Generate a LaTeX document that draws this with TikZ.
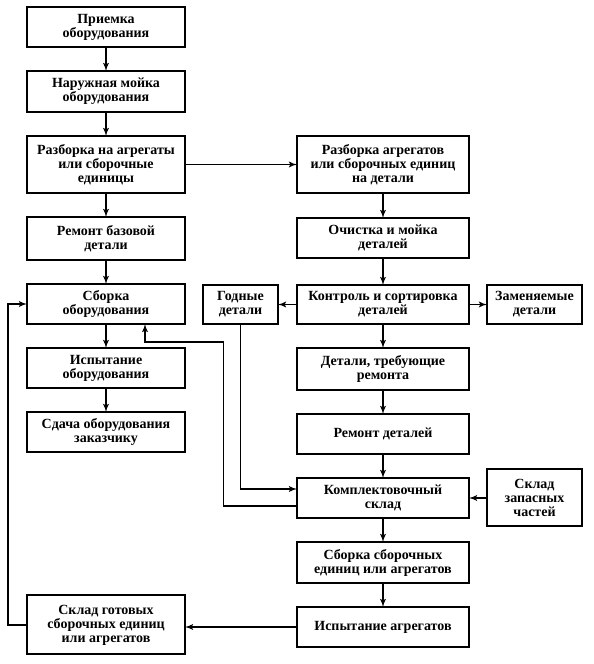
\documentclass[tikz,border=0pt]{standalone}
\usepackage{fontspec}
\setmainfont{Liberation Serif}
\usetikzlibrary{arrows,positioning}
\tikzset{
    %Define standard arrow tip
    >=latex',
    %Define style for boxes
    stage/.style={
           rectangle,
           draw=black, line width=2pt,
           minimum width=158pt,
           minimum height=40pt,
           inner sep=1pt, outer sep=0pt,
           font=\fontsize{14}{14}\selectfont\bfseries,
           align=center},
    part/.style={stage, minimum width=172pt},
    side/.style={stage, minimum width=75pt},
    % Define arrow style
    pil/.style={
           ->,
           line width=1.8pt}
}

\begin{document}
\begin{tikzpicture}[x=1pt,y=1pt,node distance=24pt]
\useasboundingbox (0,0) rectangle (594,664);
% left column
\node[stage] (L1) at (106,637) {Приемка\\ оборудования};
\node[stage, below=of L1, minimum height=41pt] (L2) {Наружная мойка\\ оборудования};
\node[stage, below=of L2, minimum height=57pt] (L3) {Разборка на агрегаты\\ или сборочные\\ единицы};
\node[stage, below=of L3, minimum height=43pt] (L4) {Ремонт базовой\\ детали};
\node[stage, below=of L4] (L5) {Сборка\\ оборудования};
\node[stage, below=of L5] (L6) {Испытание\\ оборудования};
\node[stage, below=of L6] (L7) {Сдача оборудования\\ заказчику};
% right column
\node[part, right=112pt of L3, minimum height=57pt] (R1) {Разборка агрегатов\\ или сборочных единиц\\ на детали};
\node[part, below=25pt of R1] (R2) {Очистка и мойка\\ деталей};
\node[part, below=27pt of R2, minimum height=39pt] (R3) {Контроль и сортировка\\ деталей};
\node[side, left=19pt of R3, minimum height=39pt] (G) {Годные\\ детали};
\node[side, right=18pt of R3, minimum width=95pt, minimum height=39pt] (Z) {Заменяемые\\ детали};
\node[part, below=of R3, minimum height=42pt] (R4) {Детали, требующие\\ ремонта};
\node[part, below=of R4] (R5) {Ремонт деталей};
\node[part, below=of R5] (R6) {Комплектовочный\\ склад};
\node[side, right=18pt of R6, minimum width=95pt, minimum height=57pt] (S) {Склад\\ запасных\\ частей};
\node[part, below=of R6, minimum height=41pt] (R7) {Сборка сборочных\\ единиц или агрегатов};
\node[part, below=of R7] (R8) {Испытание агрегатов};
\node[stage, minimum height=59pt] (L8) at ([yshift=2pt]L7 |- R8) {Склад готовых\\ сборочных единиц\\ или агрегатов};
\coordinate (j) at ([yshift=6pt]L6.north);
\path[pil]
	(L1) edge (L2)
	(L2) edge (L3)
	(L3) edge (L4) edge (R1)
	(L4) edge (L5)
	(L5) edge (L6)
	(L6) edge (L7)
	(R1) edge (R2)
	(R2) edge (R3)
	(R3) edge (G) edge (Z) edge (R4)
	(R4) edge (R5)
	(R5) edge (R6)
	(S) edge (R6)
	(R6) edge (R7)
	(R7) edge (R8);
\draw[pil] (R8.west) -- (R8.west -| L8.east);
\draw[pil] (G.south) |- ([yshift=9pt]R6.west);
\draw[pil] ([yshift=-8pt]R6.west) -| ([xshift=-17pt]G.south |- j) -| ([xshift=39pt]L5.south);
\draw[pil] (L8.west) -- ++(-19pt,0) |- (L5.west);
\end{tikzpicture}
\end{document}
